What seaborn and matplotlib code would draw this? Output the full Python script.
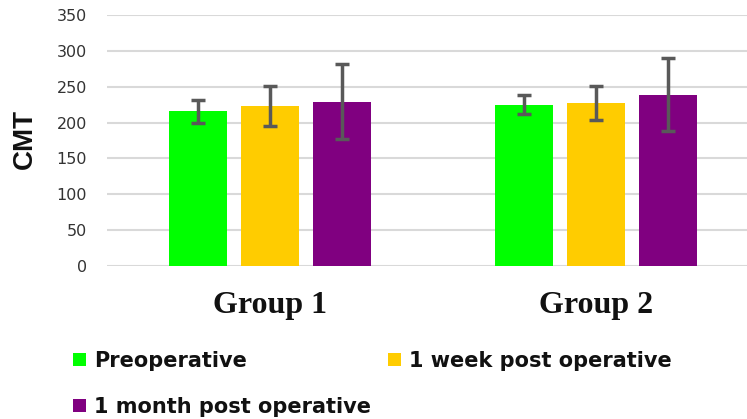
import matplotlib
matplotlib.use("Agg")
import matplotlib.pyplot as plt
import seaborn as sns
import pandas as pd
import numpy as np
from matplotlib.patches import Patch

groups = ["Group 1", "Group 2"]
timepoints = ["Preoperative", "1 week post operative", "1 month post operative"]
means_g1 = [216, 223, 229]
means_g2 = [225, 227, 239]
sd_g1 = [16, 28, 52]
sd_g2 = [13, 24, 51]
colors = ["#00FF00", "#FFCC00", "#800080"]

rows = []
for g, ms, ss in zip(groups, [means_g1, means_g2], [sd_g1, sd_g2]):
    for t, m, s in zip(timepoints, ms, ss):
        rows.append({"group": g, "time": t, "mean": m, "sd": s})
df = pd.DataFrame(rows)

sns.set_theme(style="white")
W, H = 747, 419
fig = plt.figure(figsize=(W / 100, H / 100), dpi=100)
ax = fig.add_axes([107 / W, (H - 266) / H, 640 / W, 251 / H])

sns.barplot(data=df, x="group", y="mean", hue="time", hue_order=timepoints,
            palette=colors, saturation=1, width=0.663, gap=0.2,
            errorbar=None, ax=ax, legend=False, linewidth=0)

# error bars at the bar centres
bars = [p for p in ax.patches if p.get_height() > 0]
for p in bars:
    cx = p.get_x() + p.get_width() / 2
    h = p.get_height()
    sub = df[np.isclose(df["mean"], h)]
    s = sub["sd"].iloc[0]
    ax.errorbar(cx, h, yerr=s, color="#595959", elinewidth=2.5,
                capsize=5, capthick=2.5, zorder=5)

ax.set_ylim(0, 350)
ax.set_xlim(-0.5, 1.463)
ax.set_yticks(range(0, 351, 50))
ax.yaxis.grid(True, color="#d9d9d9", linewidth=1.5)
ax.set_axisbelow(True)
for sp in ax.spines.values():
    sp.set_visible(False)
ax.tick_params(axis="y", length=0, pad=14.4, labelsize=11.5, labelcolor="#333333")
ax.tick_params(axis="x", length=0, pad=18)
for lab in ax.get_xticklabels():
    lab.set_fontfamily("Liberation Serif")
    lab.set_fontweight("bold")
    lab.set_fontsize(23)
    lab.set_color("#111111")
ax.set_xlabel("")
ax.set_ylabel("")

fig.text(25 / W, 1 - 139 / H, "CMT", rotation=90, ha="center", va="center",
         fontsize=20, fontweight="bold", family="Liberation Sans", color="#111111")

order = [0, 2, 1]
handles = [Patch(facecolor=colors[i], edgecolor="none") for i in order]
labels = [timepoints[i] for i in order]
leg = fig.legend(handles, labels, loc="upper left",
                 bbox_to_anchor=(73 / W, 1 - 351 / H), ncol=2, frameon=False,
                 borderpad=0, borderaxespad=0, handlelength=0.62, handleheight=0.62,
                 handletextpad=0.4, labelspacing=1.25, columnspacing=0.8,
                 prop={"family": "DejaVu Sans", "weight": "bold", "size": 15})
for t in leg.get_texts():
    t.set_color("#111111")

fig.savefig("out.png", dpi=100)
